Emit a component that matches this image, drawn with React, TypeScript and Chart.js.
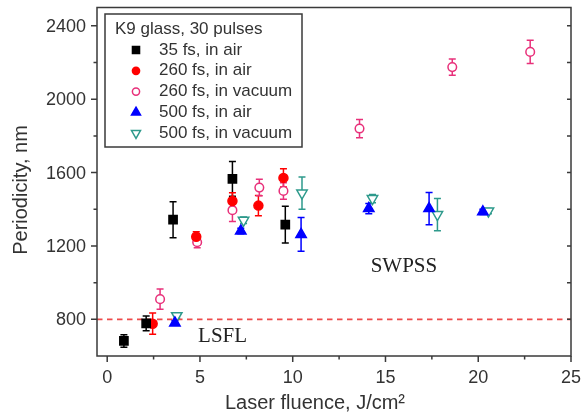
import React, { useEffect, useRef } from "react";
import { Chart, registerables } from "chart.js";

Chart.register(...registerables);

// Laser fluence (J/cm²), measured periodicity (nm) and error bars per series
const fs35AirX = [0.9, 2.1, 3.55, 6.75, 9.6];
const fs35AirY = [682, 778, 1343, 1566, 1316];
const fs35AirErr = [34, 40, 98, 95, 100];

const fs260AirX = [2.45, 4.8, 6.75, 8.15, 9.5];
const fs260AirY = [776, 1250, 1445, 1420, 1571];
const fs260AirErr = [58, 28, 45, 55, 50];

const fs260VacX = [2.85, 4.85, 6.75, 8.2, 9.5, 13.6, 18.6, 22.8];
const fs260VacY = [910, 1220, 1395, 1518, 1500, 1840, 2175, 2258];
const fs260VacErr = [55, 30, 62, 45, 45, 50, 44, 63];

const fs500AirX = [3.65, 7.2, 10.45, 14.1, 17.35, 20.25];
const fs500AirY = [780, 1282, 1263, 1404, 1404, 1386];
const fs500AirErr = [12, 15, 92, 28, 88, 14];

const fs500VacX = [3.75, 7.35, 10.5, 14.3, 17.8, 20.55];
const fs500VacY = [820, 1340, 1488, 1458, 1371, 1390];
const fs500VacErr = [14, 18, 88, 22, 88, 14];

const seriesLabels = [
  "35 fs, in air",
  "260 fs, in air",
  "260 fs, in vacuum",
  "500 fs, in air",
  "500 fs, in vacuum",
];
const legendTitle = "K9 glass, 30 pulses";

const yMajorTicks = [800, 1200, 1600, 2000, 2400];
const yMinorTicks = [1000, 1400, 1800, 2200];
const xMajorTicks = [0, 5, 10, 15, 20, 25];
const xMinorTicks = [2.5, 7.5, 12.5, 17.5, 22.5];
const thresholdPeriod = 800;

const SANS = '"Liberation Sans", Arial, sans-serif';
const SERIF = '"Liberation Serif", "Times New Roman", serif';
const AXIS_COLOR = "#3a3a3a";
const TEXT_COLOR = "#333333";

type Marker = {
  style: "rect" | "circle" | "triangle";
  rotation: number;
  radius: number;
  fill: string;
  stroke: string;
};

const markers: Marker[] = [
  { style: "rect", rotation: 0, radius: 5.8, fill: "#000000", stroke: "#000000" },
  { style: "circle", rotation: 0, radius: 4.5, fill: "#ff0000", stroke: "#ff0000" },
  { style: "circle", rotation: 0, radius: 4.3, fill: "#ffffff", stroke: "#e8307a" },
  { style: "triangle", rotation: 0, radius: 6, fill: "#0000ff", stroke: "#0000ff" },
  { style: "triangle", rotation: 180, radius: 6, fill: "#ffffff", stroke: "#2e9a8c" },
];

function drawMarker(ctx: CanvasRenderingContext2D, m: Marker, x: number, y: number, r: number) {
  ctx.save();
  ctx.beginPath();
  if (m.style === "rect") {
    const s = Math.SQRT1_2 * r;
    ctx.rect(x - s, y - s, 2 * s, 2 * s);
  } else if (m.style === "circle") {
    ctx.arc(x, y, r, 0, Math.PI * 2);
  } else {
    let rad = (m.rotation * Math.PI) / 180;
    ctx.moveTo(x + Math.sin(rad) * r, y - Math.cos(rad) * r);
    rad += (2 * Math.PI) / 3;
    ctx.lineTo(x + Math.sin(rad) * r, y - Math.cos(rad) * r);
    rad += (2 * Math.PI) / 3;
    ctx.lineTo(x + Math.sin(rad) * r, y - Math.cos(rad) * r);
    ctx.closePath();
  }
  ctx.fillStyle = m.fill;
  ctx.fill();
  ctx.strokeStyle = m.stroke;
  ctx.lineWidth = 1.5;
  ctx.stroke();
  ctx.restore();
}

const decorPlugin = {
  id: "decor",
  beforeDatasetsDraw(chart: any) {
    const { ctx, chartArea, scales } = chart;
    const xs = scales.x;
    const ys = scales.y;

    // LSFL / SWPSS boundary
    ctx.save();
    ctx.strokeStyle = "#ee4a4a";
    ctx.lineWidth = 1.7;
    ctx.setLineDash([5.5, 4.5]);
    const yT = ys.getPixelForValue(thresholdPeriod);
    ctx.beginPath();
    ctx.moveTo(chartArea.left, yT);
    ctx.lineTo(chartArea.right, yT);
    ctx.stroke();
    ctx.restore();

    // error bars
    chart.data.datasets.forEach((ds: any, di: number) => {
      const color = markers[di].stroke;
      ctx.save();
      ctx.strokeStyle = color;
      ctx.lineWidth = 1.5;
      ds.data.forEach((p: any, i: number) => {
        const e = ds.errors[i];
        const px = xs.getPixelForValue(p.x);
        const y1 = ys.getPixelForValue(p.y - e);
        const y2 = ys.getPixelForValue(p.y + e);
        ctx.beginPath();
        ctx.moveTo(px, y1);
        ctx.lineTo(px, y2);
        ctx.moveTo(px - 3.5, y1);
        ctx.lineTo(px + 3.5, y1);
        ctx.moveTo(px - 3.5, y2);
        ctx.lineTo(px + 3.5, y2);
        ctx.stroke();
      });
      ctx.restore();
    });
  },
  afterDraw(chart: any) {
    const { ctx, chartArea, scales } = chart;
    const xs = scales.x;
    const ys = scales.y;
    const { left, right, top, bottom } = chartArea;

    ctx.save();
    // frame
    ctx.strokeStyle = AXIS_COLOR;
    ctx.lineWidth = 1.5;
    ctx.strokeRect(left, top, right - left, bottom - top);

    // y ticks: outward on the left, inward on the right
    ctx.beginPath();
    yMajorTicks.forEach((v) => {
      const y = ys.getPixelForValue(v);
      ctx.moveTo(left - 6, y);
      ctx.lineTo(left, y);
      ctx.moveTo(right - 4, y);
      ctx.lineTo(right, y);
    });
    yMinorTicks.forEach((v) => {
      const y = ys.getPixelForValue(v);
      ctx.moveTo(left - 3.5, y);
      ctx.lineTo(left, y);
      ctx.moveTo(right - 4, y);
      ctx.lineTo(right, y);
    });
    // x ticks: outward below
    xMajorTicks.forEach((v) => {
      const x = xs.getPixelForValue(v);
      ctx.moveTo(x, bottom);
      ctx.lineTo(x, bottom + 6);
    });
    xMinorTicks.forEach((v) => {
      const x = xs.getPixelForValue(v);
      ctx.moveTo(x, bottom);
      ctx.lineTo(x, bottom + 3.5);
    });
    ctx.stroke();

    // tick labels
    ctx.fillStyle = TEXT_COLOR;
    ctx.font = `18px ${SANS}`;
    ctx.textAlign = "right";
    ctx.textBaseline = "middle";
    yMajorTicks.forEach((v) => {
      ctx.fillText(String(v), left - 11, ys.getPixelForValue(v) + 1);
    });
    ctx.textAlign = "center";
    xMajorTicks.forEach((v) => {
      ctx.fillText(String(v), xs.getPixelForValue(v), bottom + 22);
    });

    // axis titles
    ctx.font = `20px ${SANS}`;
    ctx.fillText("Laser fluence, J/cm²", 315, bottom + 47);
    ctx.save();
    ctx.translate(21, 190);
    ctx.rotate(-Math.PI / 2);
    ctx.fillText("Periodicity, nm", 0, 0);
    ctx.restore();

    // regime annotations
    ctx.font = `21px ${SERIF}`;
    ctx.fillStyle = "#222222";
    ctx.textAlign = "left";
    ctx.textBaseline = "alphabetic";
    ctx.fillText("LSFL", xs.getPixelForValue(4.9), ys.getPixelForValue(676));
    ctx.fillText("SWPSS", xs.getPixelForValue(14.2), ys.getPixelForValue(1057));

    // legend
    const lx = 105;
    const ly = 14;
    const lw = 197;
    const lh = 133;
    ctx.fillStyle = "#ffffff";
    ctx.fillRect(lx, ly, lw, lh);
    ctx.strokeStyle = AXIS_COLOR;
    ctx.lineWidth = 1.5;
    ctx.strokeRect(lx, ly, lw, lh);
    ctx.fillStyle = TEXT_COLOR;
    ctx.font = `17px ${SANS}`;
    ctx.textBaseline = "middle";
    ctx.fillText(legendTitle, lx + 10, ly + 15);
    seriesLabels.forEach((label, i) => {
      const rowY = ly + 36 + i * 20.8;
      const m = markers[i];
      drawMarker(ctx, m, lx + 31, rowY, m.style === "triangle" ? 5.2 : m.style === "rect" ? 5 : 3.6);
      ctx.fillStyle = TEXT_COLOR;
      ctx.fillText(label, lx + 54, rowY);
    });
    ctx.restore();
  },
};

function series(xs: number[], ys: number[], errs: number[], i: number) {
  const m = markers[i];
  return {
    label: seriesLabels[i],
    data: xs.map((x, k) => ({ x, y: ys[k] })),
    errors: errs,
    pointStyle: m.style,
    rotation: m.rotation,
    pointRadius: m.radius,
    pointHoverRadius: m.radius,
    backgroundColor: m.fill,
    borderColor: m.stroke,
    pointBorderWidth: 1.5,
    showLine: false,
  };
}

export default function App() {
  const canvasRef = useRef<HTMLCanvasElement | null>(null);

  useEffect(() => {
    if (!canvasRef.current) return;
    const chart = new Chart(canvasRef.current, {
      type: "scatter",
      data: {
        datasets: [
          series(fs35AirX, fs35AirY, fs35AirErr, 0),
          series(fs260AirX, fs260AirY, fs260AirErr, 1),
          series(fs260VacX, fs260VacY, fs260VacErr, 2),
          series(fs500AirX, fs500AirY, fs500AirErr, 3),
          series(fs500VacX, fs500VacY, fs500VacErr, 4),
        ] as any,
      },
      options: {
        responsive: false,
        animation: false,
        devicePixelRatio: 1,
        layout: { padding: { top: 7, right: 11, left: 0, bottom: 0 } },
        plugins: { legend: { display: false }, tooltip: { enabled: false } },
        scales: {
          x: {
            type: "linear",
            min: -0.55,
            max: 25,
            grid: { display: false },
            border: { display: false },
            ticks: { display: false },
            afterFit: (s: any) => {
              s.height = 60;
            },
          },
          y: {
            type: "linear",
            min: 600,
            max: 2500,
            grid: { display: false },
            border: { display: false },
            ticks: { display: false },
            afterFit: (s: any) => {
              s.width = 97;
            },
          },
        },
      },
      plugins: [decorPlugin],
    });
    return () => chart.destroy();
  }, []);

  return (
    <div style={{ position: "fixed", left: 0, top: 0, width: 582, height: 416, background: "#ffffff" }}>
      <canvas ref={canvasRef} width={582} height={416} />
    </div>
  );
}
